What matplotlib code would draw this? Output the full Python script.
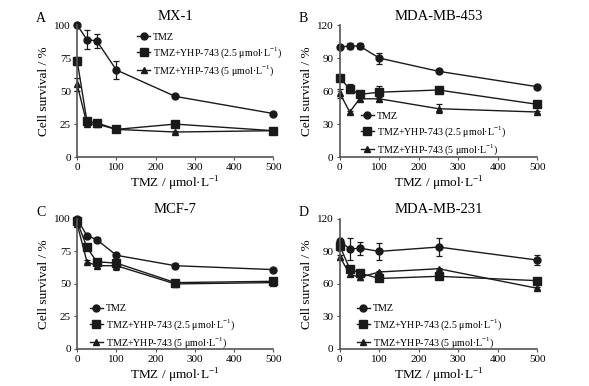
import numpy as np
import matplotlib.pyplot as plt

plt.rcParams['font.family'] = ['Liberation Serif', 'DejaVu Serif']
plt.rcParams['mathtext.fontset'] = 'custom'
plt.rcParams['mathtext.rm'] = 'Liberation Serif'

tmz = [0, 25, 50, 100, 250, 500]
labels = ['TMZ', 'TMZ+YHP-743 (2.5 μmol·L$^{-1}$)', 'TMZ+YHP-743 (5 μmol·L$^{-1}$)']

# panel A: MX-1
a_tmz = [100, 89, 88, 66, 46, 33]
a_tmz_err = [0, 7, 5, 7, 1, 1]
a_low = [73, 27, 26, 21, 25, 20]
a_low_err = [3, 2, 1, 1, 2, 1]
a_high = [55, 25, 25, 21, 19, 20]
a_high_err = [5, 1, 1, 1, 1, 1]

# panel B: MDA-MB-453
b_tmz = [100, 101, 101, 90, 78, 64]
b_tmz_err = [0, 3, 3, 5, 2, 1]
b_low = [72, 62, 57, 59, 61, 48]
b_low_err = [3, 4, 3, 6, 3, 1]
b_high = [58, 41, 53, 53, 44, 41]
b_high_err = [4, 1, 2, 2, 4, 1]

# panel C: MCF-7
c_tmz = [100, 87, 84, 72, 64, 61]
c_tmz_err = [0, 1, 2, 1, 2, 1]
c_low = [98, 78, 67, 66, 51, 52]
c_low_err = [1, 1, 2, 2, 1, 1]
c_high = [96, 67, 64, 64, 50, 51]
c_high_err = [1, 1, 2, 3, 1, 1]

# panel D: MDA-MB-231
d_tmz = [100, 92, 93, 90, 94, 82]
d_tmz_err = [0, 10, 6, 8, 8, 5]
d_low = [95, 74, 70, 65, 67, 63]
d_low_err = [2, 2, 2, 1, 1, 1]
d_high = [85, 69, 66, 71, 74, 56]
d_high_err = [2, 2, 2, 1, 1, 1]

panels = [
    ('A', 'MX-1', [0.131, 0.593, 0.333, 0.342], 100, [0, 25, 50, 75, 100],
     [(a_tmz, a_tmz_err), (a_low, a_low_err), (a_high, a_high_err)], (0.30, 0.95)),
    ('B', 'MDA-MB-453', [0.577, 0.593, 0.335, 0.342], 120, [0, 30, 60, 90, 120],
     [(b_tmz, b_tmz_err), (b_low, b_low_err), (b_high, b_high_err)], (0.10, 0.35)),
    ('C', 'MCF-7', [0.131, 0.096, 0.333, 0.337], 100, [0, 25, 50, 75, 100],
     [(c_tmz, c_tmz_err), (c_low, c_low_err), (c_high, c_high_err)], (0.06, 0.35)),
    ('D', 'MDA-MB-231', [0.577, 0.096, 0.335, 0.337], 120, [0, 30, 60, 90, 120],
     [(d_tmz, d_tmz_err), (d_low, d_low_err), (d_high, d_high_err)], (0.08, 0.35)),
]
markers = ['o', 's', '^']
msizes = [5, 5.5, 5]
ink = '#1a1a1a'

fig = plt.figure(figsize=(5.89, 3.86), dpi=100)
for letter, title, pos, ymax, yticks, series, legloc in panels:
    ax = fig.add_axes(pos)
    for (vals, err), m, ms, lab in zip(series, markers, msizes, labels):
        ax.errorbar(tmz, vals, yerr=err, fmt='none', ecolor=ink,
                    elinewidth=0.9, capsize=2.5, capthick=0.9, clip_on=False)
        ax.plot(tmz, vals, marker=m, ms=ms, color=ink, lw=1, label=lab, clip_on=False)
    ax.set_xlim(0, 500)
    ax.set_ylim(0, ymax)
    ax.set_xticks([0, 100, 200, 300, 400, 500])
    ax.set_yticks(yticks)
    for s in ['top', 'right']:
        ax.spines[s].set_visible(False)
    for s in ['left', 'bottom']:
        ax.spines[s].set_color('#555555')
        ax.spines[s].set_linewidth(1.2)
    ax.tick_params(labelsize=8, length=2.5, width=0.8, color='#555555', pad=2)
    ax.set_xlabel('TMZ / μmol·L$^{-1}$', fontsize=9.5, labelpad=2)
    ax.set_ylabel('Cell survival / %', fontsize=9.5, labelpad=3)
    ax.set_title(title, fontsize=10.5, pad=4)
    ax.text(-0.21, 1.02, letter, transform=ax.transAxes, fontsize=10)
    ax.legend(loc='upper left', bbox_to_anchor=legloc, frameon=False, fontsize=7.2,
              handlelength=1.3, handletextpad=0.3, labelspacing=0.35, borderpad=0.1,
              borderaxespad=0)

fig.savefig('out.png', dpi=100)
